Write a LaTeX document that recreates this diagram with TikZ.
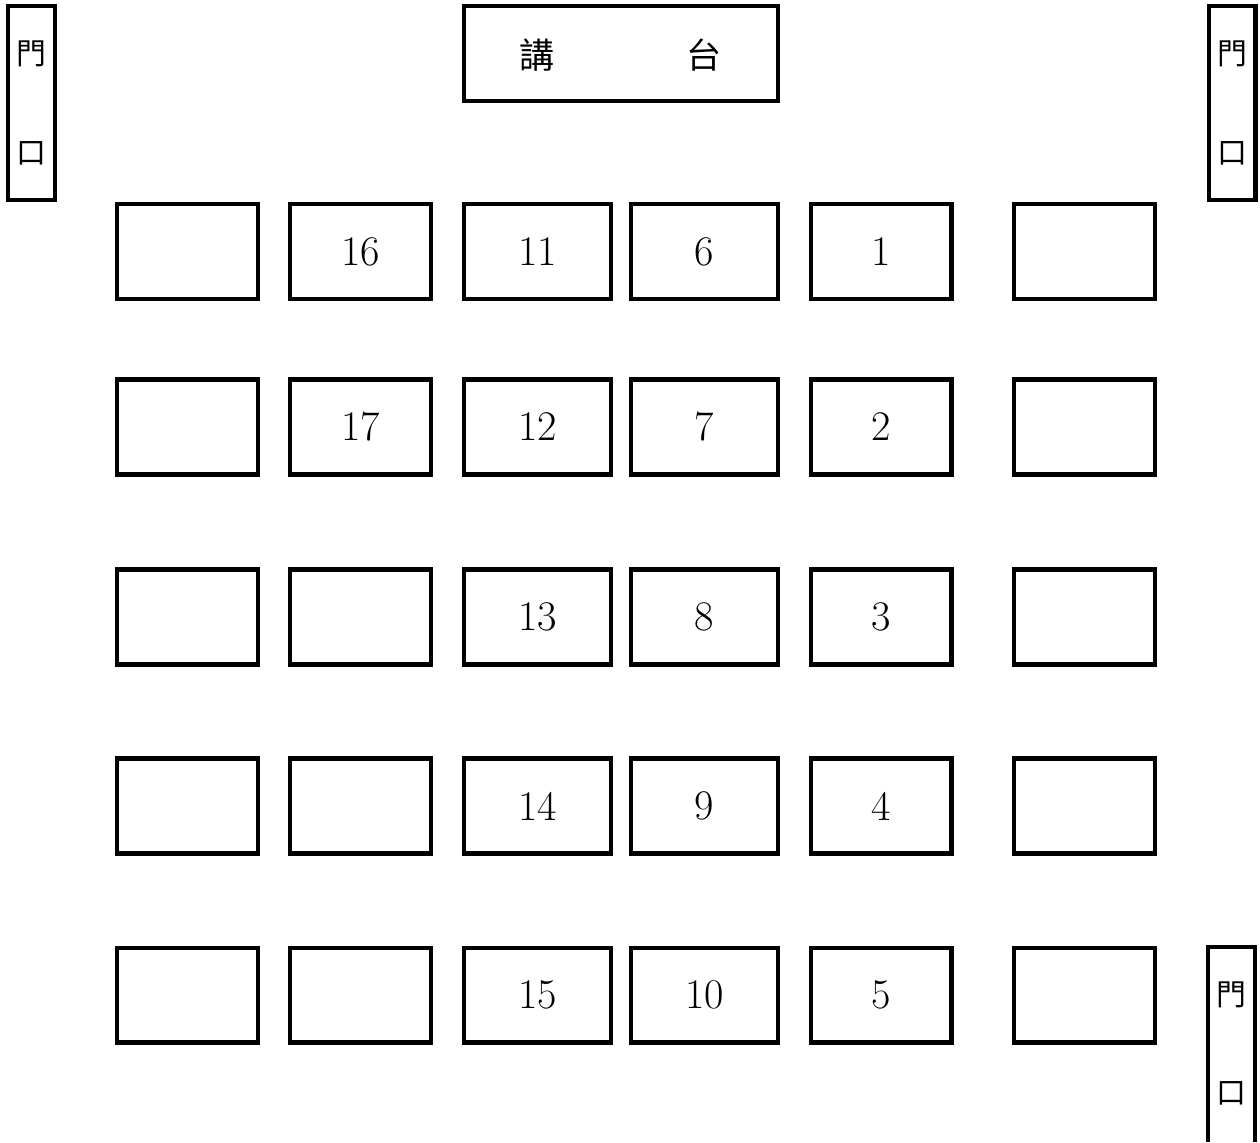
\documentclass[tikz,border=0pt]{standalone}
\usepackage{fontspec}
\newfontfamily\cjk{Noto Sans CJK TC}

\begin{document}
\begin{tikzpicture}[
    x=0.02cm, y=-0.02cm,
    every node/.style={font=\fontsize{24}{26}\selectfont},
    desk/.style={draw, line width=2.3pt, inner sep=0pt,
        minimum width=2.82cm, minimum height=1.9cm},
    widedesk/.style={desk, minimum width=2.94cm},
    door/.style={draw, line width=2.3pt, inner sep=0pt,
        minimum width=0.94cm, minimum height=3.88cm},
    cjklabel/.style={font=\cjk\fontsize{20}{22}\selectfont},
    doorlabel/.style={font=\cjk\fontsize{17}{19}\selectfont}
]

\useasboundingbox (0,0) rectangle (1260,1142);

% --- Podium ---
\node[desk, minimum width=6.28cm] (podium) at (621,53.5) {};
\node[cjklabel] (podiumA) at (537.5,55) {講};
\node[cjklabel] (podiumB) at (704.5,55) {台};

% --- Doors ---
\node[door] (doorL) at (31.5,103) {};
\node[doorlabel] (doorLa) at (31.5,54) {門};
\node[doorlabel] (doorLb) at (31.5,153) {口};

\node[door] (doorR) at (1232,103) {};
\node[doorlabel] (doorRa) at (1232,54) {門};
\node[doorlabel] (doorRb) at (1232,153) {口};

\draw[line width=2.3pt] (1208,1142) -- (1208,947) -- (1255,947) -- (1255,1142);
\node[doorlabel] (doorBa) at (1231.5,995) {門};
\node[doorlabel] (doorBb) at (1231.5,1093) {口};

% --- Row 1 ---
\node[desk] (r1c1) at (187.5,251.5) {};
\node[desk] (d16) at (360.5,251.5) {16};
\node[widedesk] (d11) at (537.5,251.5) {11};
\node[widedesk] (d6) at (704.5,251.5) {6};
\node[desk] (d1) at (881,251.5) {1};
\node[desk] (r1c6) at (1084.5,251.5) {};

% --- Row 2 ---
\node[desk] (r2c1) at (187.5,427) {};
\node[desk] (d17) at (360.5,427) {17};
\node[widedesk] (d12) at (537.5,427) {12};
\node[widedesk] (d7) at (704.5,427) {7};
\node[desk] (d2) at (881,427) {2};
\node[desk] (r2c6) at (1084.5,427) {};

% --- Row 3 ---
\node[desk] (r3c1) at (187.5,617) {};
\node[desk] (r3c2) at (360.5,617) {};
\node[widedesk] (d13) at (537.5,617) {13};
\node[widedesk] (d8) at (704.5,617) {8};
\node[desk] (d3) at (881,617) {3};
\node[desk] (r3c6) at (1084.5,617) {};

% --- Row 4 ---
\node[desk] (r4c1) at (187.5,806) {};
\node[desk] (r4c2) at (360.5,806) {};
\node[widedesk] (d14) at (537.5,806) {14};
\node[widedesk] (d9) at (704.5,806) {9};
\node[desk] (d4) at (881,806) {4};
\node[desk] (r4c6) at (1084.5,806) {};

% --- Row 5 ---
\node[desk] (r5c1) at (187.5,995) {};
\node[desk] (r5c2) at (360.5,995) {};
\node[widedesk] (d15) at (537.5,995) {15};
\node[widedesk] (d10) at (704.5,995) {10};
\node[desk] (d5) at (881,995) {5};
\node[desk] (r5c6) at (1084.5,995) {};

\end{tikzpicture}
\end{document}
